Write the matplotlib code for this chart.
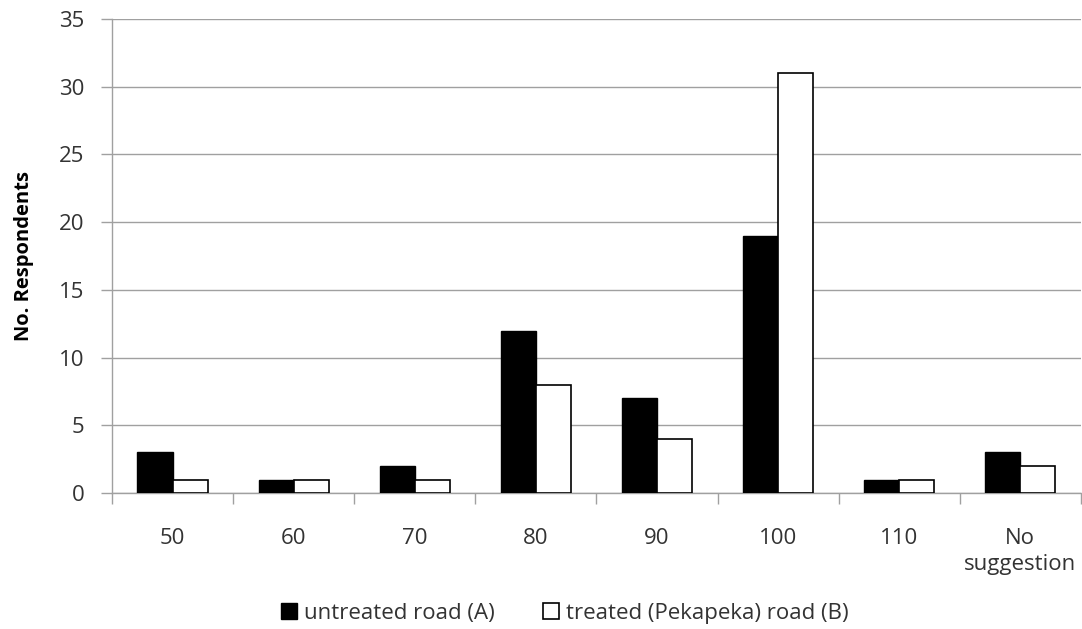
import numpy as np
import matplotlib
matplotlib.use("Agg")
import matplotlib.pyplot as plt
from matplotlib.ticker import FixedLocator

# Data
categories = ["50", "60", "70", "80", "90", "100", "110", "No\nsuggestion"]
untreated = [3, 1, 2, 12, 7, 19, 1, 3]
treated = [1, 1, 1, 8, 4, 31, 1, 2]

plt.rcParams["font.family"] = ["Open Sans", "DejaVu Sans"]

fig = plt.figure(figsize=(10.82, 6.29), dpi=100)
ax = fig.add_axes([0.1035, 0.216, 0.8955, 0.754])

x = np.arange(len(categories))
w = 0.29
ax.bar(x - w / 2, untreated, w, color="black", edgecolor="black", linewidth=1,
       label="untreated road (A)", zorder=3)
ax.bar(x + w / 2, treated, w, color="white", edgecolor="black", linewidth=1.2,
       label="treated (Pekapeka) road (B)", zorder=3)

ax.set_xlim(-0.5, len(categories) - 0.5)
ax.set_ylim(0, 35)
ax.set_yticks(range(0, 36, 5))
ax.yaxis.grid(True, color="#a0a0a0", linewidth=1, zorder=0)

# category boundaries as major ticks, labels on minor ticks
ax.xaxis.set_major_locator(FixedLocator(np.arange(-0.5, len(categories), 1.0)))
ax.xaxis.set_major_formatter(plt.NullFormatter())
ax.xaxis.set_minor_locator(FixedLocator(x))
ax.set_xticklabels(categories, minor=True, linespacing=1.3)
ax.tick_params(axis="x", which="major", length=8, color="#a0a0a0", width=1)
ax.tick_params(axis="x", which="minor", length=0, pad=25, labelsize=16, colors="#333333")
ax.tick_params(axis="y", length=8, color="#a0a0a0", width=1, labelsize=16,
               labelcolor="#333333", pad=12)

for s in ["top", "right"]:
    ax.spines[s].set_visible(False)
for s in ["left", "bottom"]:
    ax.spines[s].set_color("#a0a0a0")
    ax.spines[s].set_linewidth(1)

ax.set_ylabel("No. Respondents", fontsize=14.5, fontweight="bold", labelpad=18)

fig.legend(loc="center", bbox_to_anchor=(0.522, 0.025), ncol=2, frameon=False,
           fontsize=16, handlelength=0.7, handleheight=0.7, handletextpad=0.3,
           columnspacing=2.2, labelcolor="#333333", borderpad=0)

fig.savefig("out.png", dpi=100)
